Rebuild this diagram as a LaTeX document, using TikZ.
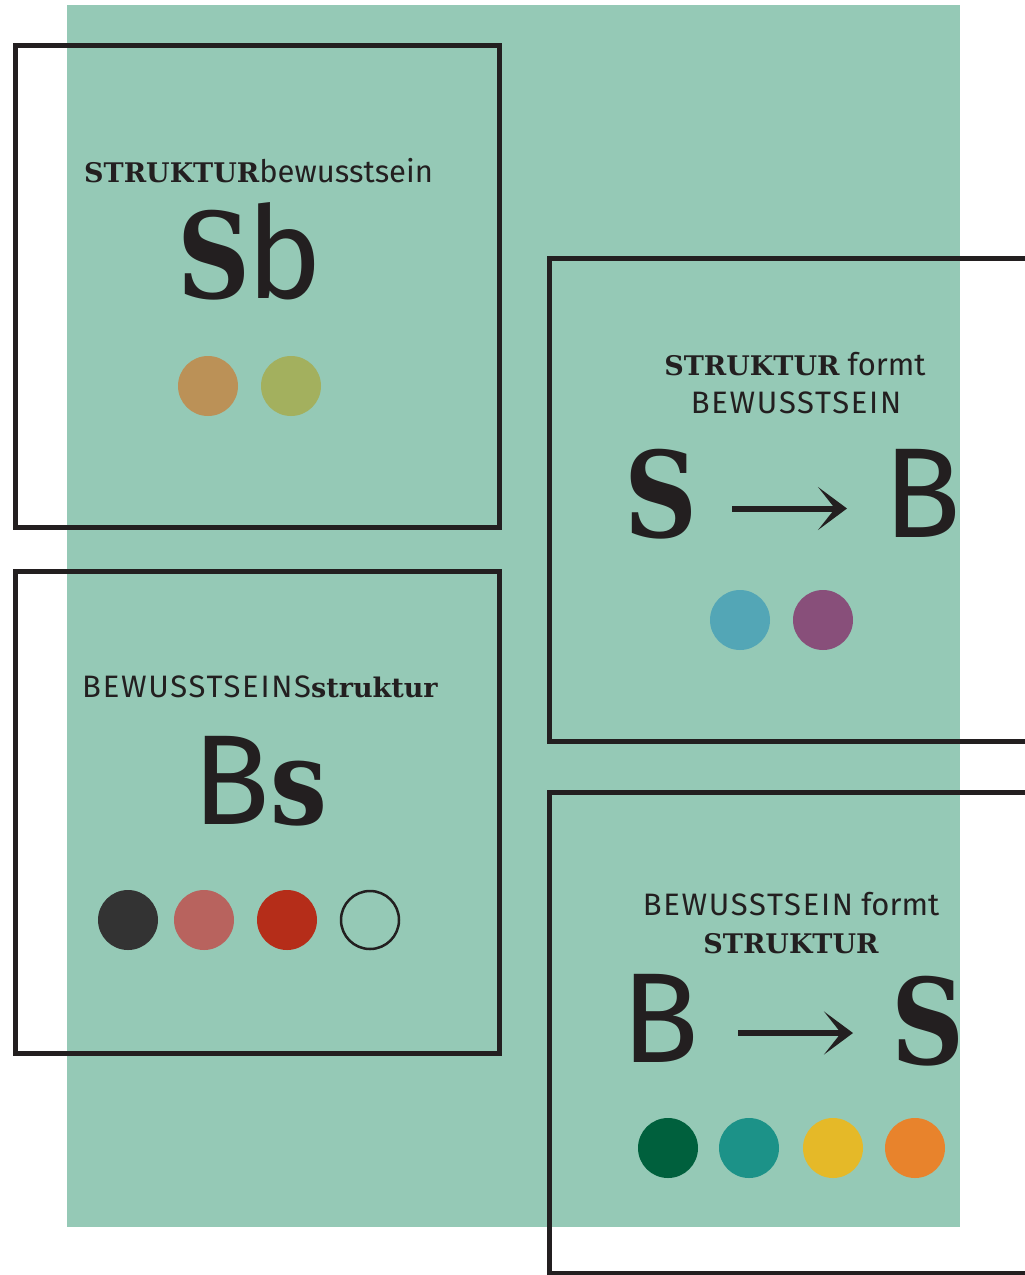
\documentclass[tikz,border=0pt]{standalone}
\usepackage{fontspec}
\setmainfont{Liberation Serif}
\newfontfamily\sansf{Fira Sans}[LetterSpace=5.5]
\newfontfamily\sanslc{Fira Sans}
\newfontfamily\bigsans{Fira Sans}
\newfontfamily\serb{DejaVu Serif}[UprightFont=* Bold]
\newfontfamily\bigserb{DejaVu Serif}[UprightFont=* Bold,FakeStretch=0.85]
\usetikzlibrary{arrows.meta}
\definecolor{bg}{HTML}{95C9B6}
\definecolor{ink}{HTML}{231F20}
\definecolor{cA}{HTML}{BB9157}
\definecolor{cB}{HTML}{A3B05E}
\definecolor{cC}{HTML}{53A6B6}
\definecolor{cD}{HTML}{884F7A}
\definecolor{cE}{HTML}{333333}
\definecolor{cF}{HTML}{B8635E}
\definecolor{cG}{HTML}{B52D19}
\definecolor{cH}{HTML}{00603D}
\definecolor{cI}{HTML}{1C9288}
\definecolor{cJ}{HTML}{E5B928}
\definecolor{cK}{HTML}{E8832C}
\newcommand{\smsans}[1]{{\fontsize{31}{38}\sansf #1}}
\newcommand{\smlc}[1]{{\fontsize{31}{38}\sanslc #1}}
\newcommand{\smserif}[1]{{\fontsize{27}{32}\serb #1}}
\newcommand{\bigsn}[1]{{\fontsize{128}{140}\bigsans #1}}
\newcommand{\bigsr}[1]{{\fontsize{119}{130}\bigserb #1}}
\begin{document}
\begin{tikzpicture}[x=1pt,y=-1pt,
  frame/.style={draw=ink,line width=5pt},
  txt/.style={inner sep=0,text=ink,font=\fontsize{31}{38}\sanslc},
  dot/.style={circle,minimum size=60pt,inner sep=0},
  arr/.style={draw=ink,line width=6pt,-{Stealth[length=29pt,width=43pt,inset=17pt]}}]
\useasboundingbox (0,0) rectangle (1025,1275);
\fill[bg] (67,5) rectangle (960,1227);
% frames
\draw[frame] (15.5,45) rectangle (499.5,527.5);
\draw[frame] (15.5,571) rectangle (499.5,1053);
\draw[frame] (549.5,258) rectangle (1034,741.5);
\draw[frame] (549.5,792) rectangle (1034,1273.5);
% box 1
\node[txt,anchor=base west] (t1) at (84,182) {\smserif{STRUKTUR}\smlc{bewusstsein}};
\node[txt,anchor=base west] (g1) at (177,298) {\bigsr{S}\kern-4pt\bigsn{b}};
\node[dot,fill=cA] (d1a) at (208,386) {};
\node[dot,fill=cB] (d1b) at (291,386) {};
% box 2
\node[txt,anchor=base west] (t2) at (82,697) {\smsans{BEWUSSTSEINS}\smserif{struktur}};
\node[txt,anchor=base west] (g2) at (192,824) {\bigsn{B}\bigsr{s}};
\node[dot,fill=cE] (d2a) at (128,920) {};
\node[dot,fill=cF] (d2b) at (204,920) {};
\node[dot,fill=cG] (d2c) at (287,920) {};
\node[dot,draw=ink,line width=2.5pt,minimum size=58pt] (d2d) at (370,920) {};
% box 3
\node[txt,anchor=base] (t3a) at (795,375) {\smserif{STRUKTUR} \smlc{formt}};
\node[txt,anchor=base] (t3b) at (796,413) {\smsans{BEWUSSTSEIN}};
\node[txt,anchor=base west] (s3) at (624,537) {\bigsr{S}};
\node[txt,anchor=base west] (b3) at (883,537) {\bigsn{B}};
\coordinate (a3s) at (732,508.5);
\coordinate (a3e) at (847,508.5);
\draw[arr] (a3s) -- (a3e);
\node[dot,fill=cC] (d3a) at (740,620) {};
\node[dot,fill=cD] (d3b) at (823,620) {};
% box 4
\node[txt,anchor=base] (t4a) at (791,915) {\smsans{BEWUSSTSEIN} \smlc{formt}};
\node[txt,anchor=base] (t4b) at (791,953) {\smserif{STRUKTUR}};
\node[txt,anchor=base west] (b4) at (621,1062) {\bigsn{B}};
\node[txt,anchor=base west] (s4) at (891,1064) {\bigsr{S}};
\coordinate (a4s) at (738,1033);
\coordinate (a4e) at (853,1033);
\draw[arr] (a4s) -- (a4e);
\node[dot,fill=cH] (d4a) at (668,1148) {};
\node[dot,fill=cI] (d4b) at (749,1148) {};
\node[dot,fill=cJ] (d4c) at (833,1148) {};
\node[dot,fill=cK] (d4d) at (915,1148) {};
\end{tikzpicture}
\end{document}
